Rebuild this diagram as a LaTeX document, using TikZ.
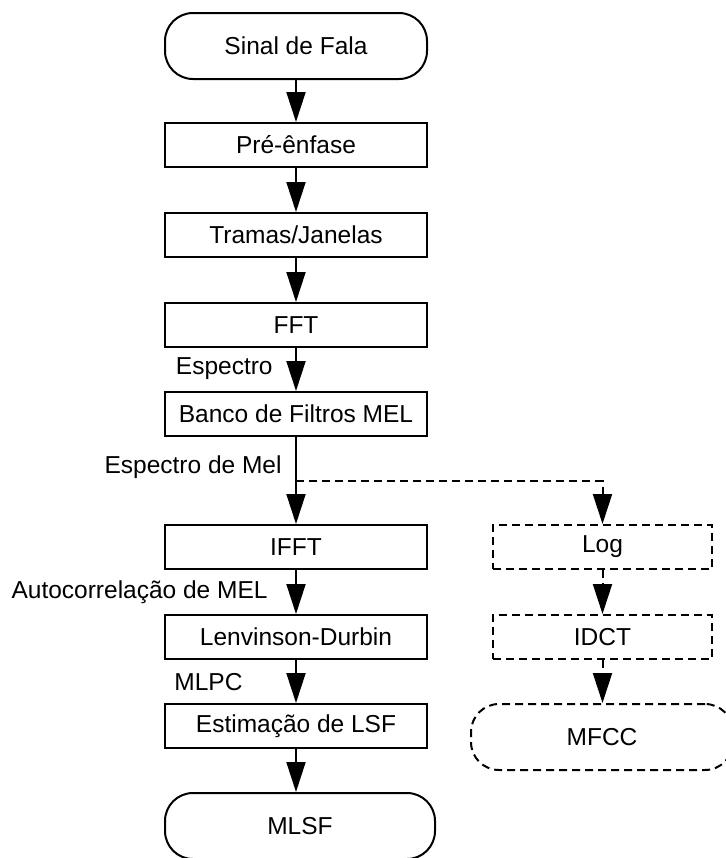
\documentclass[tikz,border=0pt]{standalone}
\usepackage{fontspec}
\setmainfont{Liberation Sans}
\usepackage{tikz}
\usetikzlibrary{arrows.meta, calc, positioning}

\begin{document}
\begin{tikzpicture}[x=0.5pt, y=-0.5pt,
    every node/.style={font=\fontsize{12.25}{14}\selectfont},
    box/.style={draw, line width=1pt, minimum width=131pt, minimum height=22pt, inner sep=0pt},
    term/.style={box, rounded corners=14pt, minimum height=33pt},
    dbox/.style={box, dashed, dash pattern=on 4pt off 2.5pt},
    lbl/.style={inner sep=0pt},
    flow/.style={line width=1pt, -{Triangle[width=9.5pt, length=15pt]}},
    dflow/.style={flow, dash pattern=on 4pt off 2.5pt}]
    \useasboundingbox (0,0) rectangle (726,858);

    % Main chain
    \node[term] (sinal) at (296,46) {Sinal de Fala};
    \node[box] (pre) at (296,145) {Pré-ênfase};
    \node[box] (tramas) at (296,235) {Tramas/Janelas};
    \node[box] (fft) at (296,325) {FFT};
    \node[box] (banco) at (296,414) {Banco de Filtros MEL};
    \node[box] (ifft) at (296,547) {IFFT};
    \node[box] (lev) at (296,637) {Lenvinson-Durbin};
    \node[box] (lsf) at (296,726) {Estimação de LSF};
    \node[term, minimum width=135pt] (mlsf) at (300,826) {MLSF};

    % MFCC branch
    \node[dbox, minimum width=109.5pt] (log) at (602.5,547) {Log};
    \node[dbox, minimum width=109.5pt] (idct) at (602.5,637) {IDCT};
    \node[term, dashed, dash pattern=on 4pt off 2.5pt] (mfcc) at (602,737) {MFCC};

    % Labels
    \node[lbl, anchor=east] (espec) at (273,369) {Espectro};
    \node[lbl, anchor=east] (espmel) at (282,467) {Espectro de Mel};
    \node[lbl, anchor=east] (autoc) at (268,592) {Autocorrelação de MEL};
    \node[lbl, anchor=west] (mlpc) at (174,682) {MLPC};

    % Arrows
    \draw[flow] (sinal) -- (pre);
    \draw[flow] (pre) -- (tramas);
    \draw[flow] (tramas) -- (fft);
    \draw[flow] (fft) -- (banco);
    \draw[flow] (banco) -- (ifft);
    \draw[flow] (ifft) -- (lev);
    \draw[flow] (lev) -- (lsf);
    \draw[flow] (lsf.south) -- (lsf.south |- mlsf.north);
    \coordinate (split) at (296,481);
    \draw[dflow] (split) -| (log.north);
    \draw[dflow] (log) -- (idct);
    \draw[dflow] (idct.south) -- (idct.south |- mfcc.north);
\end{tikzpicture}
\end{document}
